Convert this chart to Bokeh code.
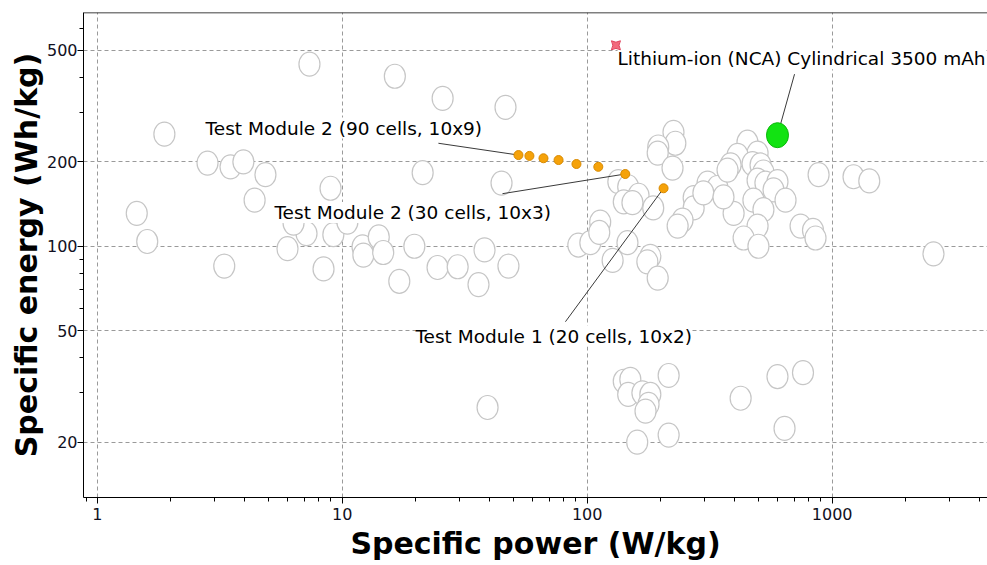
from bokeh.plotting import figure
from bokeh.models import Range1d, FixedTicker, PrintfTickFormatter, Label, Span
from bokeh.embed import file_html
from bokeh.resources import INLINE

# ---------------- data ----------------
# Background cells: specific power (W/kg), specific energy (Wh/kg)
cell_power = [1.45, 1.60, 1.88, 2.82, 3.50, 3.95, 4.86, 4.39, 7.35, 8.96,
              3.30, 5.98, 7.15, 9.2, 8.39, 12.1, 12.2, 14.1, 14.7, 19.7,
              17.1, 24.5, 29.6, 38.1, 36.0, 47.7, 16.4, 25.7, 46.4, 21.3,
              44.7, 6.33, 10.5, 39.2, 92, 103, 113, 112, 127, 146,
              181, 176, 194, 134, 147, 162, 141, 153, 186, 225,
              229, 195, 194, 223, 310, 340, 272, 272, 245, 234,
              298, 451, 496, 411, 385, 374, 473, 510, 524, 496,
              534, 598, 576, 645, 477, 524, 396, 360, 496, 435,
              500, 743, 835, 855, 880, 1222, 1417, 2591, 141, 150,
              147, 168, 181, 178, 173, 215, 160, 215, 423, 598,
              760, 639]
cell_energy = [131, 104, 251, 198, 192, 200, 180, 146, 446, 161,
               85, 98, 111, 110, 83, 99.5, 93, 108, 95, 100,
               75, 84, 84.5, 97, 73, 85, 404, 337, 313, 183,
               168, 121, 122, 26.6, 101, 103, 122, 112, 89, 103,
               92, 88, 77, 170, 163, 152, 144, 143, 137, 255,
               233, 226, 215, 190, 168, 162, 149, 137, 124, 118,
               155, 235, 215, 211, 195, 187, 197, 195, 184, 172,
               168, 170, 159, 146, 146, 135, 131, 150, 118, 107,
               100, 118, 114, 107, 180, 177, 171, 94, 33, 33.5,
               29.6, 30, 29.6, 27.3, 25.8, 34.6, 20, 21.2, 28.7, 34.3,
               35.4, 22.4]

# Test module 2 series (orange)
module2_power = [52.4, 58.1, 66.3, 76.4, 90.4, 111, 143]
module2_energy = [211.5, 210, 206, 203, 196.5, 192, 181]
# Test module 1
module1_power = [205]
module1_energy = [161]
# Lithium-ion (NCA) cylindrical 3500 mAh
nca_power = [598]
nca_energy = [249]
# small red reference marker
marker_power = [131]
marker_energy = [521]

# annotation texts and anchor positions (data units)
label_texts = ["Test Module 2 (90 cells, 10x9)",
               "Test Module 2 (30 cells, 10x3)",
               "Test Module 1 (20 cells, 10x2)",
               "Lithium-ion (NCA) Cylindrical 3500 mAh"]
label_power = [2.77, 5.29, 19.9, 133]
label_energy = [264, 132, 47.8, 466]
leader_start_power = [24.7, 45.1, 81.5, 702]
leader_start_energy = [233, 154, 53.8, 411]
leader_end_power = [module2_power[0], module2_power[-1], module1_power[0], nca_power[0]]
leader_end_energy = [module2_energy[0], module2_energy[-1], module1_energy[0], nca_energy[0]]

x_ticks = [1, 10, 100, 1000]
x_minor = [0.9, 2, 3, 4, 5, 6, 7, 8, 9, 20, 30, 40, 50, 60, 70, 80, 90,
           200, 300, 400, 500, 600, 700, 800, 900, 2000, 3000, 4000]
y_ticks = [20, 50, 100, 200, 500]
y_minor = [30, 40, 60, 70, 80, 90, 300, 400, 600]

x_title = "Specific power (W/kg)"
y_title = "Specific energy (Wh/kg)"

# ---------------- figure ----------------
p = figure(width=987, height=565, x_axis_type="log", y_axis_type="log",
           x_range=Range1d(0.879, 4305), y_range=Range1d(12.7, 682),
           output_backend="svg", toolbar_location=None, title=None,
           min_border_left=83, min_border_right=0, min_border_top=12,
           min_border_bottom=68)
p.outline_line_color = None
p.background_fill_color = "white"
p.border_fill_color = "white"

for ax, ticks, minor, title in ((p.xaxis, x_ticks, x_minor, x_title),
                                (p.yaxis, y_ticks, y_minor, y_title)):
    ax.ticker = FixedTicker(ticks=ticks, minor_ticks=minor)
    ax.formatter = PrintfTickFormatter(format="%d")
    ax.axis_label = title
    ax.axis_label_text_font = "DejaVu Sans"
    ax.axis_label_text_font_style = "bold"
    ax.axis_label_text_font_size = "30px"
    ax.axis_label_text_color = "black"
    ax.major_label_text_font = "DejaVu Sans"
    ax.major_label_text_font_size = "16px"
    ax.major_label_text_color = "#111122"
    ax.axis_line_color = "black"
    ax.major_tick_line_color = "black"
    ax.minor_tick_line_color = "black"
    ax.major_tick_in = 0
    ax.major_tick_out = 6
    ax.minor_tick_in = 0
    ax.minor_tick_out = 4

p.xaxis.major_label_standoff = 4
p.xaxis.axis_label_standoff = 3
p.yaxis.major_label_standoff = 0
p.yaxis.axis_label_standoff = 0

for g in (p.xgrid, p.ygrid):
    g.grid_line_color = "#9a9a9a"
    g.grid_line_dash = "4 3"
    g.grid_line_width = 1

# top border line
p.add_layout(Span(location=682, dimension="width", line_color="black", line_width=1.5))

# background cells
p.ellipse(x=cell_power, y=cell_energy, width=21, height=24,
          width_units="screen", height_units="screen",
          fill_color="white", line_color="#c6c6c6", line_width=1.2)

# leader lines
p.segment(x0=leader_start_power, y0=leader_start_energy,
          x1=leader_end_power, y1=leader_end_energy,
          line_color="#3a3a3a", line_width=1)

# test modules
p.scatter(x=module2_power, y=module2_energy, marker="circle", size=9,
          fill_color="#f5a20a", line_color="#d98a00")
p.scatter(x=module1_power, y=module1_energy, marker="circle", size=9,
          fill_color="#f5a20a", line_color="#d98a00")

# NCA cell
p.ellipse(x=nca_power, y=nca_energy, width=22, height=25,
          width_units="screen", height_units="screen",
          fill_color="#12e312", line_color="#0bb80b", line_width=1)

# labels
for t, lx, ly in zip(label_texts, label_power, label_energy):
    p.add_layout(Label(x=lx, y=ly, text=t, text_font="DejaVu Sans",
                       text_font_size="18.5px", text_color="black",
                       text_align="left", text_baseline="middle",
                       background_fill_color="white"))

p.scatter(x=marker_power, y=marker_energy, marker="square_pin", size=9,
          fill_color="#f26a7c", line_color="#e0405a", level="overlay")

open("out.html", "w").write(file_html(p, INLINE))
